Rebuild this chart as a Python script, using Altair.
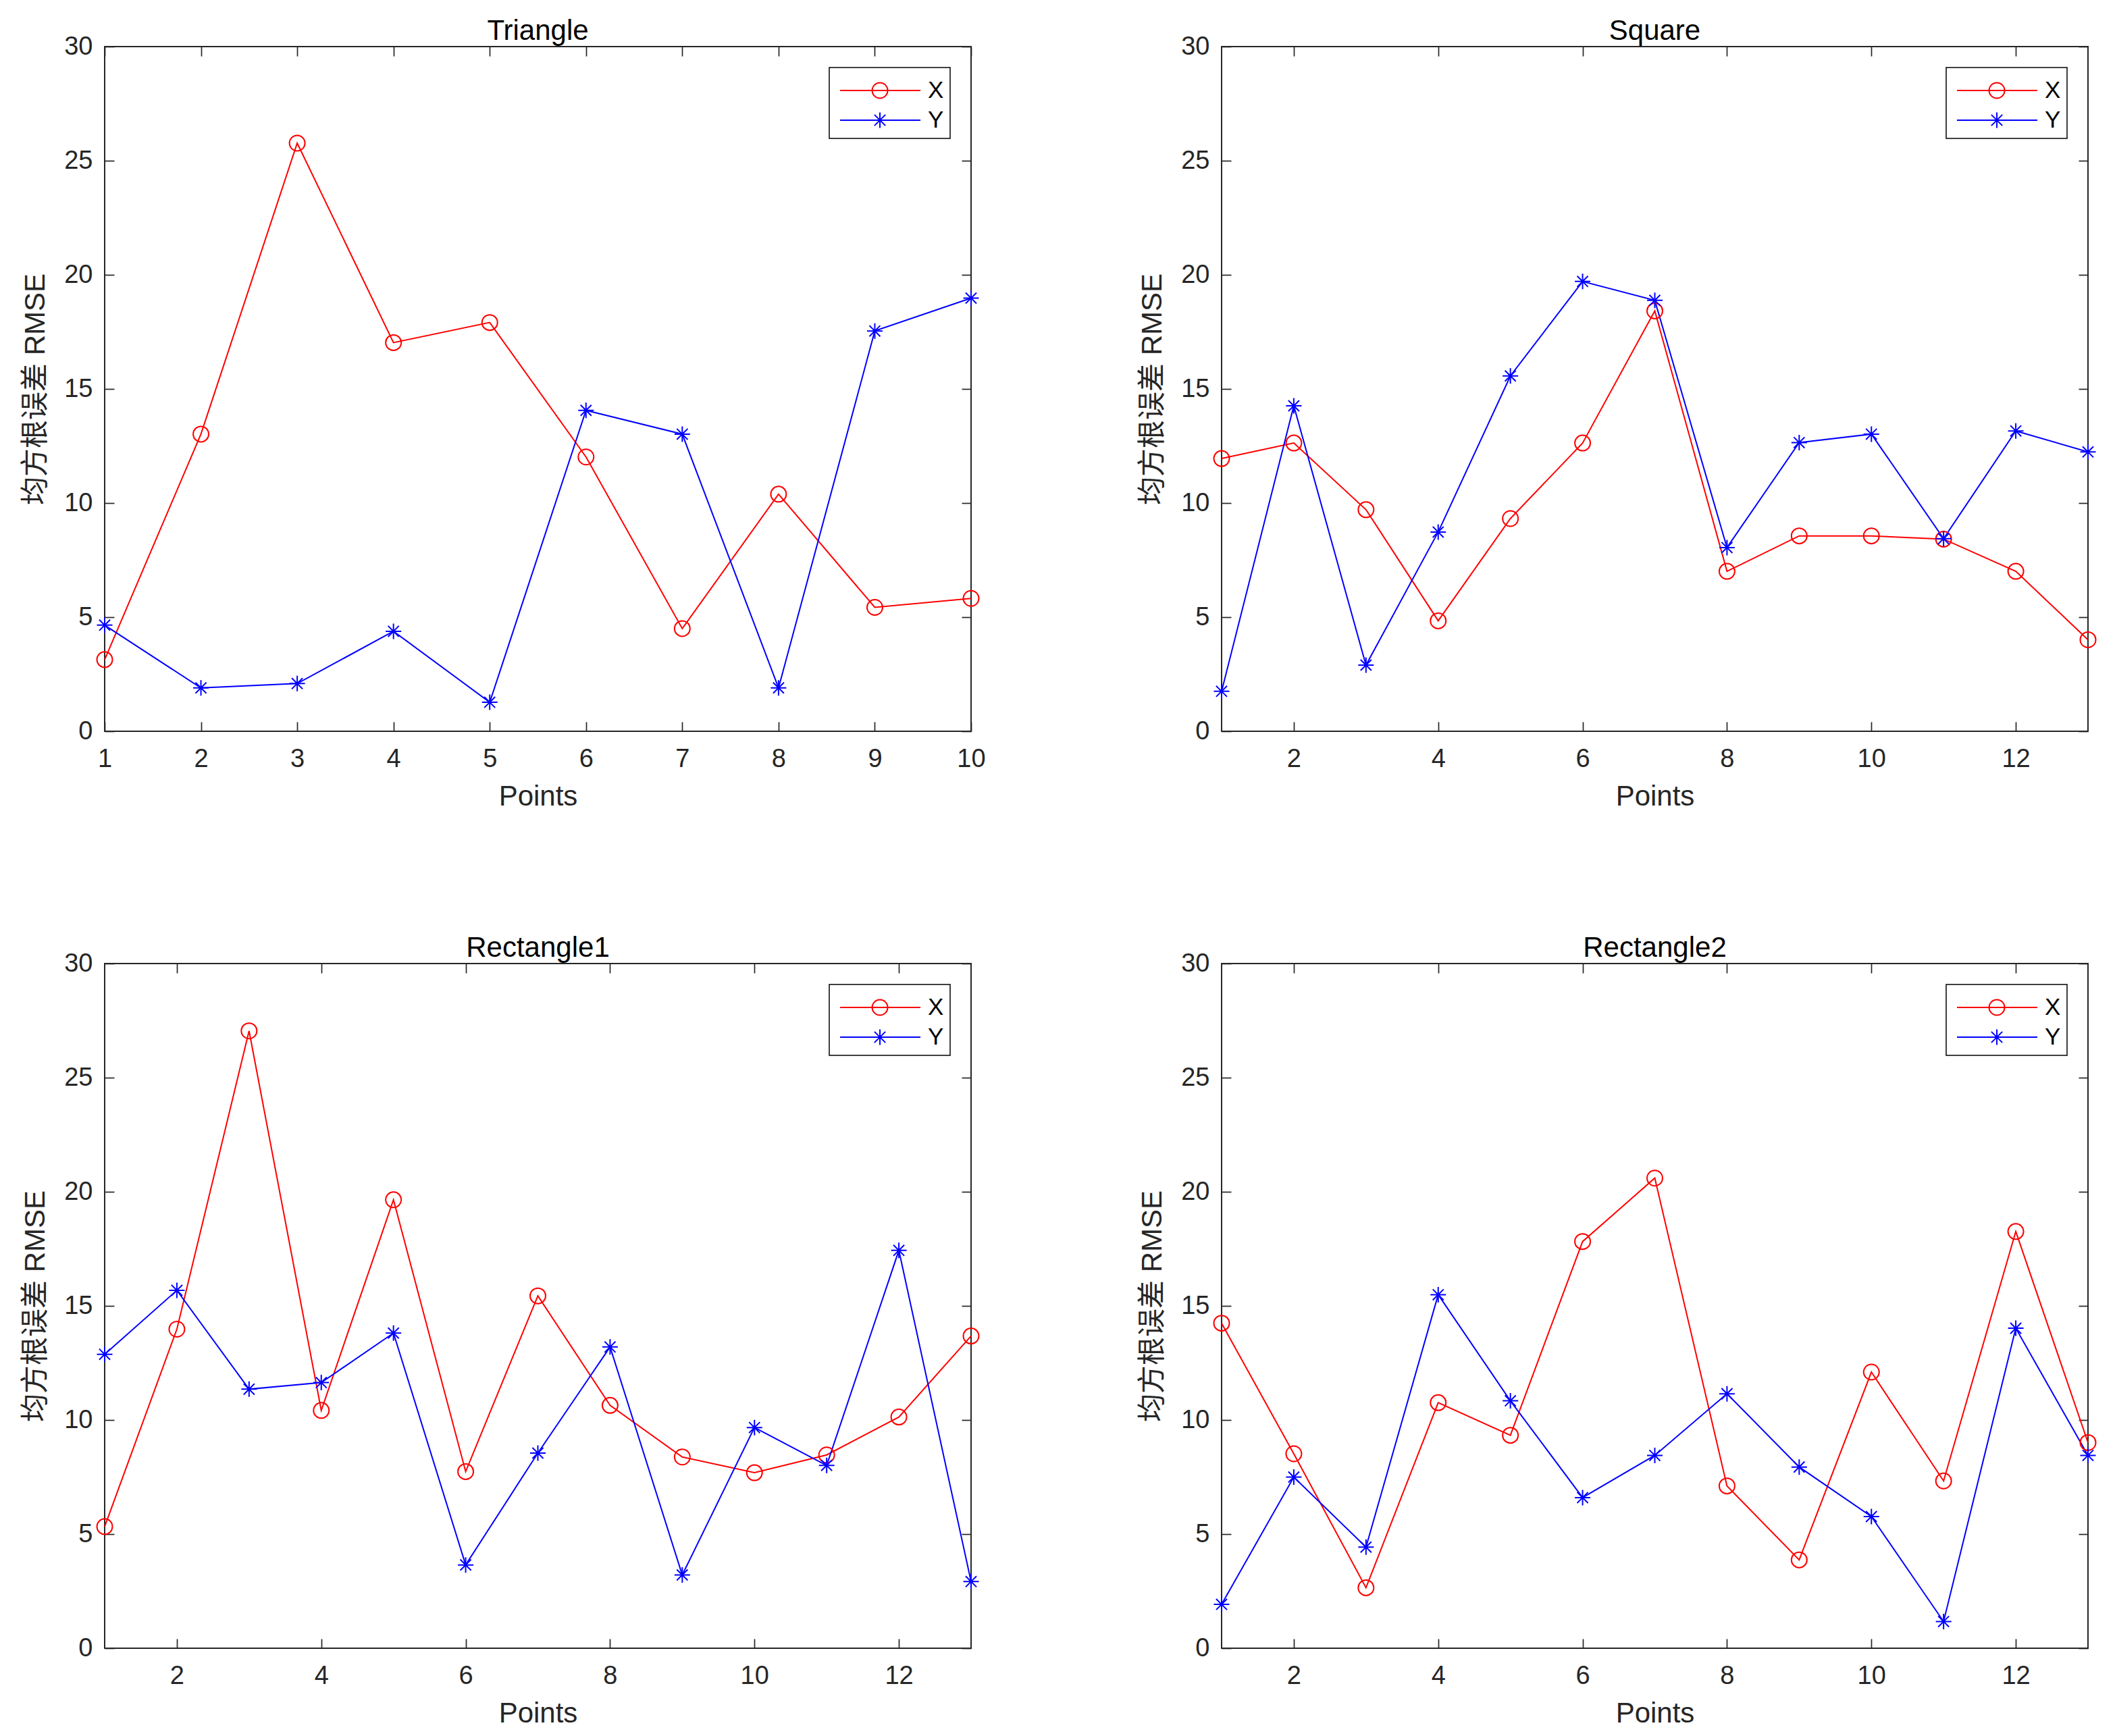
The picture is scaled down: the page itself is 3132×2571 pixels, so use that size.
import altair as alt
import pandas as pd

FONT = "Liberation Sans, Arial, Noto Sans CJK SC"
DARK = "#262626"

SERIES = ["X", "Y"]
COLORS = ["#FF0000", "#0000FF"]

panel_titles = ["Triangle", "Square", "Rectangle1", "Rectangle2"]

tri_x = [3.14, 13.02, 25.77, 17.03, 17.91, 12.02, 4.50, 10.39, 5.43, 5.82]
tri_y = [4.65, 1.90, 2.09, 4.38, 1.27, 14.06, 13.02, 1.90, 17.54, 18.98]
sq_x = [11.95, 12.63, 9.71, 4.84, 9.32, 12.63, 18.42, 7.01, 8.56, 8.56, 8.42, 7.01, 4.01]
sq_y = [1.75, 14.26, 2.90, 8.73, 15.57, 19.71, 18.88, 8.05, 12.65, 13.02, 8.44, 13.16, 12.24]
r1_x = [5.33, 13.98, 27.05, 10.42, 19.65, 7.74, 15.44, 10.64, 8.38, 7.69, 8.47, 10.13, 13.68]
r1_y = [12.88, 15.68, 11.35, 11.64, 13.81, 3.65, 8.55, 13.20, 3.21, 9.67, 8.01, 17.43, 2.92]
r2_x = [14.24, 8.52, 2.65, 10.76, 9.33, 17.82, 20.60, 7.11, 3.87, 12.10, 7.33, 18.26, 9.01]
r2_y = [1.92, 7.50, 4.43, 15.49, 10.84, 6.60, 8.45, 11.15, 7.94, 5.77, 1.17, 14.02, 8.45]

xticks_10 = [1, 2, 3, 4, 5, 6, 7, 8, 9, 10]
xticks_13 = [2, 4, 6, 8, 10, 12]
yticks = [0, 5, 10, 15, 20, 25, 30]

y_title = "均方根误差  RMSE"
x_title = "Points"

# marker shapes (unit square -1..1)
STAR = "M-1,0L1,0M0,-1L0,1M-0.7,-0.7L0.7,0.7M-0.7,0.7L0.7,-0.7"
# legend symbols: line with marker in the middle
LEG_CIRCLE = "M-0.75,0L4.21,0M2.19,0A0.48,0.48,0,1,1,1.23,0A0.48,0.48,0,1,1,2.19,0"
LEG_STAR = ("M-0.75,0L4.21,0M1.23,0L2.19,0M1.71,-0.48L1.71,0.48"
            "M1.37,-0.34L2.05,0.34M1.37,0.34L2.05,-0.34")

TICK = 14


def axis_common():
    return dict(domain=False, grid=False, ticks=True, tickSize=TICK, tickWidth=1.7,
                tickColor=DARK, offset=-TICK, labelFont=FONT, labelFontSize=38,
                labelColor=DARK, titleFont=FONT, titleFontSize=42, titleColor=DARK,
                titleFontWeight="normal")


def panel(title, xs, ys, xticks):
    n = len(xs)
    df = pd.DataFrame({
        "point": list(range(1, n + 1)) * 2,
        "value": xs + ys,
        "series": ["X"] * n + ["Y"] * n,
    })
    base = alt.Chart(df)
    xscale = alt.Scale(domain=[1, n], nice=False, zero=False)
    yscale = alt.Scale(domain=[0, 30], nice=False)
    cscale = alt.Scale(domain=SERIES, range=COLORS)

    x_bottom = alt.Axis(orient="bottom", values=xticks, format="d", labelPadding=22,
                        labelFlush=False, labelOverlap=False, title=x_title,
                        titlePadding=16, **axis_common())
    x_top = alt.Axis(orient="top", values=xticks, labels=False, title=None, **axis_common())
    y_left = alt.Axis(orient="left", values=yticks, format="d", labelPadding=18,
                      labelOverlap=False, title=y_title, titlePadding=20, **axis_common())
    y_right = alt.Axis(orient="right", values=yticks, labels=False, title=None, **axis_common())

    legend = alt.Legend(title=None, orient="top-right", offset=31, padding=9,
                        fillColor="white", strokeColor="black", symbolSize=2304,
                        symbolStrokeWidth=2, labelFont=FONT, labelFontSize=35,
                        labelColor="black", labelOffset=87, rowPadding=1)

    is_x = alt.datum.series == SERIES[0]
    is_y = alt.datum.series == SERIES[1]

    line_x = base.transform_filter(is_x).mark_line(strokeWidth=2, color=COLORS[0]).encode(
        x=alt.X("point:Q", scale=xscale, axis=x_bottom),
        y=alt.Y("value:Q", scale=yscale, axis=y_left),
    )
    line_y = base.transform_filter(is_y).mark_line(strokeWidth=2, color=COLORS[1]).encode(
        x=alt.X("point:Q", scale=xscale, axis=None),
        y=alt.Y("value:Q", scale=yscale, axis=None),
    )
    pts_x = base.transform_filter(is_x).mark_point(
        shape="circle", size=529, filled=False, strokeWidth=2, opacity=1, color=COLORS[0]
    ).encode(
        x=alt.X("point:Q", scale=xscale, axis=x_top),
        y=alt.Y("value:Q", scale=yscale, axis=y_right),
    )
    pts_y = base.transform_filter(is_y).mark_point(
        shape=STAR, size=529, filled=False, strokeWidth=2, opacity=1, color=COLORS[1]
    ).encode(
        x=alt.X("point:Q", scale=xscale, axis=None),
        y=alt.Y("value:Q", scale=yscale, axis=None),
    )
    leg = base.transform_filter("false").mark_point(
        filled=False, strokeWidth=2, opacity=1
    ).encode(
        x=alt.X("point:Q", scale=xscale, axis=None),
        y=alt.Y("value:Q", scale=yscale, axis=None),
        color=alt.Color("series:N", scale=cscale, legend=legend),
        shape=alt.Shape("series:N",
                        scale=alt.Scale(domain=SERIES, range=[LEG_CIRCLE, LEG_STAR]),
                        legend=legend),
    )
    return alt.layer(line_x, line_y, pts_x, pts_y, leg).resolve_axis(
        x="independent", y="independent"
    ).properties(
        width=1283, height=1014,
        title=alt.TitleParams(text=title, font=FONT, fontSize=42, fontWeight="normal",
                              color="#000000", offset=-18, anchor="middle", frame="group"),
    )


p1 = panel(panel_titles[0], tri_x, tri_y, xticks_10)
p2 = panel(panel_titles[1], sq_x, sq_y, xticks_13)
p3 = panel(panel_titles[2], r1_x, r1_y, xticks_13)
p4 = panel(panel_titles[3], r2_x, r2_y, xticks_13)

chart = alt.concat(p1, p2, p3, p4, columns=2, spacing={"row": 344, "column": 371},
                   bounds="flush").resolve_scale(
    color="independent", shape="independent"
).resolve_legend(
    color="independent", shape="independent"
).properties(
    padding={"left": 22, "top": 16, "right": 10, "bottom": 10},
    background="white",
).configure_view(stroke=DARK, strokeWidth=2).configure_legend(strokeWidth=1.5)

chart.save("out.html", embed_options={"renderer": "svg", "actions": False})
